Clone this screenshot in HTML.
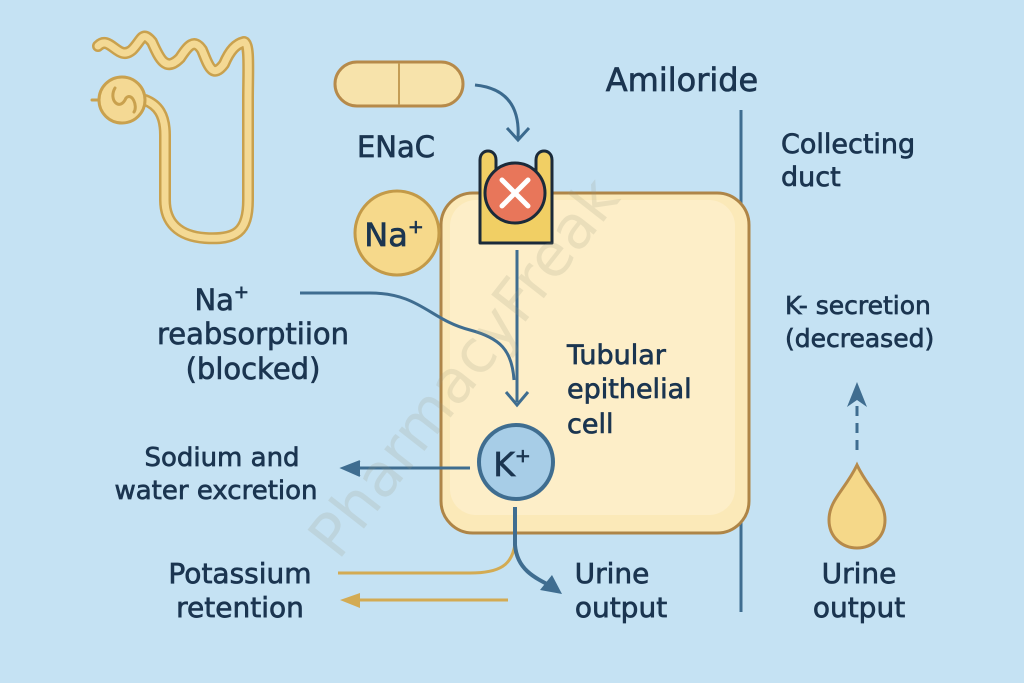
<!DOCTYPE html>
<html><head><meta charset="utf-8"><style>
body{margin:0;width:1024px;height:683px;overflow:hidden;background:#c6e2f3;}
svg{display:block}
text{font-family:"DejaVu Sans","Liberation Sans",sans-serif;fill:#1b3550;stroke:#1b3550;stroke-width:0.7px;}
</style></head><body>
<svg width="1024" height="683" viewBox="0 0 1024 683">
<rect width="1024" height="683" fill="#c5e2f3"/>
<!-- nephron -->
<g fill="none" stroke-linecap="round" stroke-linejoin="round">
<path d="M98 46 C110 34 118 62 132 50 C142 40 142 30 152 42 C160 60 166 72 180 58 C188 46 194 38 202 50 C208 64 212 80 224 64 C230 50 236 44 244 42 C250 44 248 70 248 100 L248 200 C248 232 236 240 205 238 C178 236 165 222 165 200 L165 135 C165 115 158 105 145 100" stroke="#c9a14e" stroke-width="12"/>
<path d="M98 46 C110 34 118 62 132 50 C142 40 142 30 152 42 C160 60 166 72 180 58 C188 46 194 38 202 50 C208 64 212 80 224 64 C230 50 236 44 244 42 C250 44 248 70 248 100 L248 200 C248 232 236 240 205 238 C178 236 165 222 165 200 L165 135 C165 115 158 105 145 100" stroke="#f4d994" stroke-width="7"/>
<circle cx="122" cy="100" r="23" fill="#f4d994" stroke="#c9a14e" stroke-width="3"/>
<path d="M99 100 L92 100 M115 88 C108 100 120 112 126 98 C132 92 138 106 134 112" stroke="#c9a14e" stroke-width="3"/>
</g>
<!-- pill -->
<rect x="335" y="62" width="128" height="44" rx="22" fill="#f7e3ab" stroke="#b68a4a" stroke-width="3"/>
<line x1="399" y1="63" x2="399" y2="105" stroke="#c49d55" stroke-width="2"/>
<path d="M475 85 C505 88 520 105 518 138" fill="none" stroke="#3b6a8e" stroke-width="3"/>
<path d="M507 128 L518 140 L529 128" fill="none" stroke="#3b6a8e" stroke-width="3"/>
<text x="396" y="157" font-size="29" text-anchor="middle">ENaC</text>
<text x="682" y="91" font-size="32" text-anchor="middle">Amiloride</text>
<line x1="741" y1="110" x2="741" y2="612" stroke="#3f6d90" stroke-width="3"/>
<!-- cell -->
<rect x="441" y="193" width="308" height="340" rx="32" fill="#fbe9b8" stroke="#ae8547" stroke-width="3"/>
<rect x="450" y="200" width="285" height="315" rx="26" fill="#fdeec8"/>
<!-- channel -->
<path d="M480 243 L480 160 C480 148 496 148 496 160 L496 175 L536 175 L536 160 C536 148 552 148 552 160 L552 243 Z" fill="#f1cf64" stroke="#1b2a3a" stroke-width="3" stroke-linejoin="round"/>
<circle cx="515" cy="193" r="30" fill="#e8765a" stroke="#1b2a3a" stroke-width="3"/>
<path d="M502 180 L528 206 M528 180 L502 206" stroke="#fff" stroke-width="5" stroke-linecap="round"/>
<!-- Na circle -->
<circle cx="397" cy="233" r="42" fill="#f6d98b" stroke="#c39a48" stroke-width="3"/>
<text x="394" y="246" font-size="32" text-anchor="middle">Na<tspan font-size="19" dy="-13">+</tspan></text>
<!-- arrows -->
<line x1="517" y1="250" x2="517" y2="402" stroke="#3f6d90" stroke-width="3"/>
<path d="M300 293 L370 293 C420 293 430 320 470 330 C500 338 512 350 514 380" fill="none" stroke="#3f6d90" stroke-width="3"/>
<path d="M506 392 L517 405 L528 392" fill="none" stroke="#3f6d90" stroke-width="3"/>
<circle cx="516" cy="462" r="37" fill="#a7cde7" stroke="#3f6d90" stroke-width="4"/>
<text x="512" y="476" font-size="33" text-anchor="middle">K<tspan font-size="19" dy="-14">+</tspan></text>
<line x1="470" y1="468" x2="346" y2="468" stroke="#3f6d90" stroke-width="3"/>
<path d="M360 461 L342 468 L360 476" fill="#3f6d90" stroke="#3f6d90" stroke-width="2"/>
<path d="M515 544 C512 565 500 573 470 573 L338 573" fill="none" stroke="#d3ab53" stroke-width="3"/>
<path d="M515 507 L515 545 C517 570 535 578 555 588" fill="none" stroke="#3f6d90" stroke-width="4"/>
<path d="M540 590 L562 594 L552 575 Z" fill="#3f6d90"/>
<line x1="508" y1="600" x2="345" y2="600" stroke="#d3ab53" stroke-width="3"/>
<path d="M360 593 L340 600 L360 608" fill="#d3ab53"/>
<!-- dashed -->
<line x1="857" y1="450" x2="857" y2="400" stroke="#3f6d90" stroke-width="3" stroke-dasharray="10,7"/>
<path d="M847 407 L857 382 L867 407 L857 400 Z" fill="#3f6d90"/>
<path d="M857 465 C845 490 829 500 829 520 C829 537 842 548 857 548 C872 548 885 537 885 520 C885 500 869 490 857 465 Z" fill="#f5d889" stroke="#b68a4a" stroke-width="3"/>
<!-- texts -->
<g font-size="27">
<text x="781" y="153">Collecting</text><text x="781" y="186">duct</text>
</g>
<g font-size="25">
<text x="785" y="314">K- secretion</text><text x="785" y="347">(decreased)</text>
</g>
<g font-size="27">
<text x="567" y="364">Tubular</text><text x="567" y="398">epithelial</text><text x="567" y="433">cell</text>
</g>
<g font-size="28">
<text x="859" y="583" text-anchor="middle">Urine</text><text x="859" y="617" text-anchor="middle">output</text>
<text x="612" y="583" text-anchor="middle">Urine</text><text x="621" y="617" text-anchor="middle">output</text>
<text x="240" y="583" text-anchor="middle">Potassium</text><text x="240" y="617" text-anchor="middle">retention</text>
</g>
<g font-size="26">
<text x="222" y="466" text-anchor="middle">Sodium and</text><text x="216" y="499" text-anchor="middle">water excretion</text>
</g>
<g font-size="29">
<text x="249" y="310" text-anchor="end">Na<tspan font-size="18" dy="-12">+</tspan></text>
<text x="253" y="344" text-anchor="middle">reabsorptiion</text>
<text x="253" y="379" text-anchor="middle">(blocked)</text>
</g>
<text x="480" y="380" font-size="60" opacity="0.18" transform="rotate(-52 480 380)" text-anchor="middle" style="fill:#9a9a80;stroke:none">PharmacyFreak</text>
</svg>
</body></html>
